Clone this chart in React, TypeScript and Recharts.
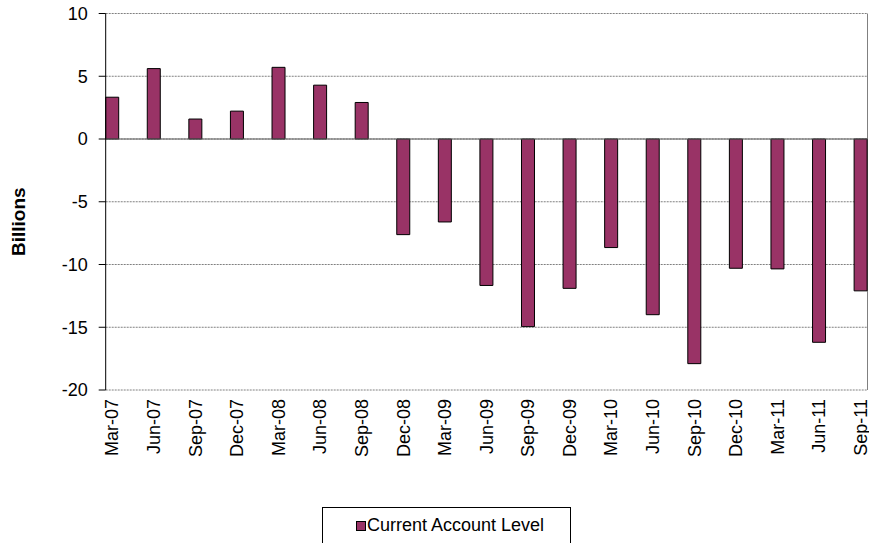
import { BarChart, Bar, XAxis, YAxis, CartesianGrid, ReferenceLine } from 'recharts';

const quarters = [
  'Mar-07', 'Jun-07', 'Sep-07', 'Dec-07', 'Mar-08', 'Jun-08', 'Sep-08', 'Dec-08',
  'Mar-09', 'Jun-09', 'Sep-09', 'Dec-09', 'Mar-10', 'Jun-10', 'Sep-10', 'Dec-10',
  'Mar-11', 'Jun-11', 'Sep-11',
];
const currentAccount = [
  3.33, 5.61, 1.59, 2.22, 5.71, 4.29, 2.91, -7.62,
  -6.61, -11.67, -14.95, -11.9, -8.65, -14.0, -17.9, -10.3,
  -10.35, -16.2, -12.1,
];
const yTicks = [10, 5, 0, -5, -10, -15, -20];

const data = quarters.map((q, i) => ({ quarter: q, level: currentAccount[i] }));

const FONT = 'Arial, "Liberation Sans", sans-serif';
const PLUM = '#993366';

function XTick(props: any) {
  const { x, payload } = props;
  return (
    <text
      transform={`translate(${x},${399}) rotate(-90)`}
      textAnchor="end"
      dominantBaseline="central"
      fontFamily={FONT}
      fontSize={18}
      fill="#000"
    >
      {payload.value}
    </text>
  );
}

function YLabel(props: any) {
  const { viewBox } = props;
  const cx = 18;
  const cy = viewBox.y + viewBox.height / 2 + 20;
  return (
    <text
      transform={`translate(${cx},${cy}) rotate(-90)`}
      textAnchor="middle"
      dominantBaseline="central"
      fontFamily={FONT}
      fontSize={19}
      fontWeight="bold"
      fill="#000"
    >
      Billions
    </text>
  );
}

export default function App() {
  return (
    <div style={{ position: 'absolute', left: 0, top: 0, width: 869, height: 543, background: '#fff', overflow: 'hidden' }}>
      <BarChart
        width={869}
        height={543}
        data={data}
        margin={{ top: 13.5, right: 1.3, left: 0, bottom: 0 }}
      >
        <CartesianGrid
          vertical={false}
          stroke="#808080"
          strokeDasharray="2 1"
        />
        <CartesianGrid horizontal={false} verticalPoints={[867.5]} stroke="#808080" />
        <XAxis
          dataKey="quarter"
          height={153}
          padding={{ left: -14, right: -14 }}
          axisLine={false}
          tickLine={false}
          interval={0}
          tick={<XTick />}
        />
        <YAxis
          width={105.7}
          domain={[-20, 10]}
          ticks={yTicks}
          interval={0}
          tickSize={7}
          tickMargin={11}
          axisLine={{ stroke: '#000' }}
          tickLine={{ stroke: '#000' }}
          tick={{ fill: '#000', fontSize: 18, fontFamily: FONT }}
          label={<YLabel />}
        />
        <ReferenceLine y={0} stroke="#606060" />
        <Bar dataKey="level" fill={PLUM} stroke="#000" strokeWidth={1} barSize={13} isAnimationActive={false} />
      </BarChart>
      <div
        style={{
          position: 'absolute',
          left: 322,
          top: 507,
          width: 249,
          height: 45,
          border: '1px solid #000',
          boxSizing: 'border-box',
          fontFamily: FONT,
          fontSize: 18,
          color: '#000',
        }}
      >
        <div style={{ position: 'absolute', left: 33, top: 13, width: 8, height: 8, background: PLUM, border: '1px solid #000' }} />
        <div style={{ position: 'absolute', left: 44, top: 4, whiteSpace: 'nowrap', lineHeight: '26px' }}>
          Current Account Level
        </div>
      </div>
    </div>
  );
}
